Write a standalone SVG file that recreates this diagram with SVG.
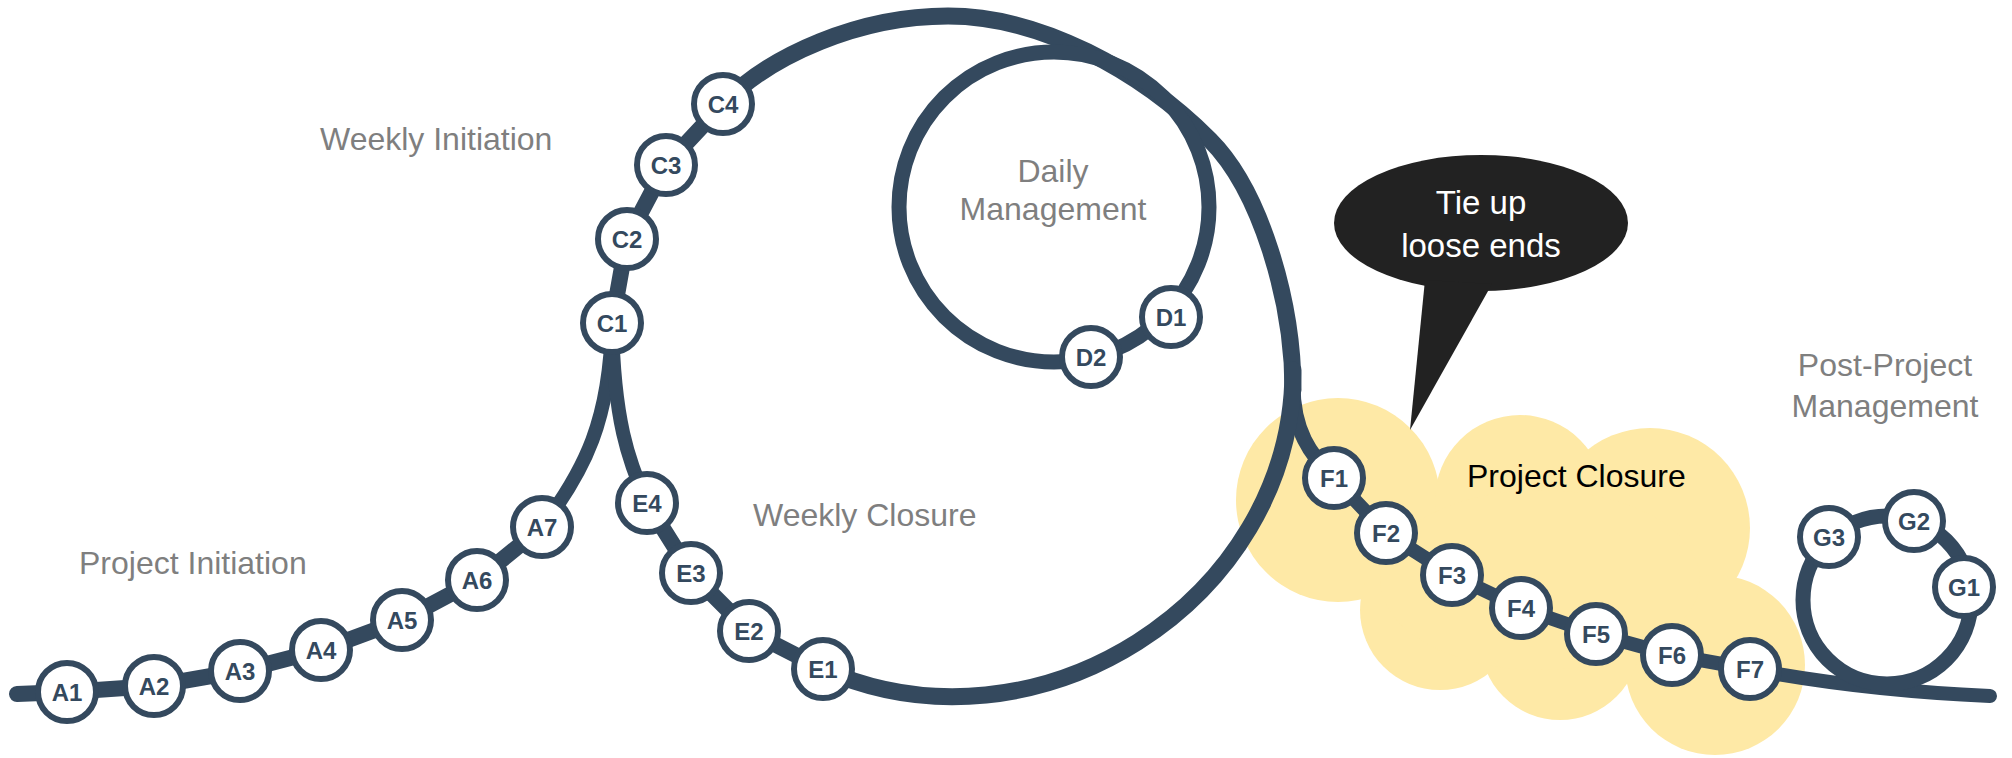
<svg xmlns="http://www.w3.org/2000/svg" width="2012" height="758" viewBox="0 0 2012 758">
<defs>
<style>
.ln{fill:none;stroke:#34495E;stroke-linecap:round;stroke-linejoin:round}
.nd circle{fill:#FFFFFF;stroke:#34495E;stroke-width:6}
.nd text{font-family:"Liberation Sans",Arial,sans-serif;font-weight:bold;font-size:24px;fill:#34495E;text-anchor:middle}
.lbl{font-family:"Liberation Sans",Arial,sans-serif;font-size:32px;fill:#7F7F7F}
.mid{text-anchor:middle}
.cloud{fill:#FEE9A6}
</style>
</defs>
<rect width="2012" height="758" fill="#FFFFFF"/>
<g id="cloud" class="cloud">
<circle cx="1338" cy="500" r="102"/>
<circle cx="1520" cy="500" r="85"/>
<circle cx="1650" cy="528" r="100"/>
<circle cx="1715" cy="665" r="90"/>
<circle cx="1560" cy="640" r="80"/>
<circle cx="1440" cy="610" r="80"/>
<ellipse cx="1540" cy="580" rx="160" ry="90"/>
</g>
<g id="bubble">
<ellipse cx="1481" cy="223" rx="147" ry="68" fill="#222222"/>
<polygon points="1425,280 1492,284 1410,430" fill="#222222"/>
<text class="lbl mid" x="1481" y="214" style="fill:#FFFFFF;font-size:33px">Tie up</text>
<text class="lbl mid" x="1481" y="257" style="fill:#FFFFFF;font-size:33px">loose ends</text>
</g>
<g id="labels">
<text class="lbl" x="79" y="574">Project Initiation</text>
<text class="lbl" x="320" y="150">Weekly Initiation</text>
<text class="lbl" x="753" y="526">Weekly Closure</text>
<text class="lbl mid" x="1053" y="182">Daily</text>
<text class="lbl mid" x="1053" y="220">Management</text>
<text class="lbl" x="1467" y="487" style="fill:#000000">Project Closure</text>
<text class="lbl mid" x="1885" y="376">Post-Project</text>
<text class="lbl mid" x="1885" y="417">Management</text>
</g>
<g id="connectors">
<path class="ln" stroke-width="16" d="M17,694 L67,692 L154,686 L240,671 L321,650 L402,620 L477,580 L542,527"/>
<path class="ln" stroke-width="14" d="M542,527 C585,470 610,420 612,323"/>
<path class="ln" stroke-width="14" d="M647,503 C628,460 614,420 612,323"/>
<path class="ln" stroke-width="16" d="M612,323 L627,239 L666,165 L723,104"/>
<path class="ln" stroke-width="17" d="M723,104 C770,55 860,16 948,16 C1040,16 1140,70 1210,140 C1260,190 1293,300 1293,390"/>
<path class="ln" stroke-width="15" d="M1293,385 C1293,430 1310,455 1334,478"/>
<path class="ln" stroke-width="17" d="M1293,370 C1293,602 1035,764 823,669"/>
<path class="ln" stroke-width="16" d="M823,669 L749,631 L691,573 L647,503"/>
<ellipse class="ln" stroke-width="15" cx="1054" cy="207" rx="155" ry="155"/>
<path class="ln" stroke-width="14" d="M1334,478 L1386,533 L1452,575 L1521,608 L1596,634 L1672,655 L1750,669"/>
<path class="ln" stroke-width="14" d="M1750,669 Q1860,690 1990,696"/>
<circle class="ln" stroke-width="15" cx="1887" cy="600" r="84"/>
</g>
<g id="A1" class="nd"><circle cx="67" cy="692" r="29"/><text x="67" y="700.5">A1</text></g>
<g id="A2" class="nd"><circle cx="154" cy="686" r="29"/><text x="154" y="694.5">A2</text></g>
<g id="A3" class="nd"><circle cx="240" cy="671" r="29"/><text x="240" y="679.5">A3</text></g>
<g id="A4" class="nd"><circle cx="321" cy="650" r="29"/><text x="321" y="658.5">A4</text></g>
<g id="A5" class="nd"><circle cx="402" cy="620" r="29"/><text x="402" y="628.5">A5</text></g>
<g id="A6" class="nd"><circle cx="477" cy="580" r="29"/><text x="477" y="588.5">A6</text></g>
<g id="A7" class="nd"><circle cx="542" cy="527" r="29"/><text x="542" y="535.5">A7</text></g>
<g id="C1" class="nd"><circle cx="612" cy="323" r="29"/><text x="612" y="331.5">C1</text></g>
<g id="C2" class="nd"><circle cx="627" cy="239" r="29"/><text x="627" y="247.5">C2</text></g>
<g id="C3" class="nd"><circle cx="666" cy="165" r="29"/><text x="666" y="173.5">C3</text></g>
<g id="C4" class="nd"><circle cx="723" cy="104" r="29"/><text x="723" y="112.5">C4</text></g>
<g id="D1" class="nd"><circle cx="1171" cy="317" r="29"/><text x="1171" y="325.5">D1</text></g>
<g id="D2" class="nd"><circle cx="1091" cy="357" r="29"/><text x="1091" y="365.5">D2</text></g>
<g id="E4" class="nd"><circle cx="647" cy="503" r="29"/><text x="647" y="511.5">E4</text></g>
<g id="E3" class="nd"><circle cx="691" cy="573" r="29"/><text x="691" y="581.5">E3</text></g>
<g id="E2" class="nd"><circle cx="749" cy="631" r="29"/><text x="749" y="639.5">E2</text></g>
<g id="E1" class="nd"><circle cx="823" cy="669" r="29"/><text x="823" y="677.5">E1</text></g>
<g id="F1" class="nd"><circle cx="1334" cy="478" r="29"/><text x="1334" y="486.5">F1</text></g>
<g id="F2" class="nd"><circle cx="1386" cy="533" r="29"/><text x="1386" y="541.5">F2</text></g>
<g id="F3" class="nd"><circle cx="1452" cy="575" r="29"/><text x="1452" y="583.5">F3</text></g>
<g id="F4" class="nd"><circle cx="1521" cy="608" r="29"/><text x="1521" y="616.5">F4</text></g>
<g id="F5" class="nd"><circle cx="1596" cy="634" r="29"/><text x="1596" y="642.5">F5</text></g>
<g id="F6" class="nd"><circle cx="1672" cy="655" r="29"/><text x="1672" y="663.5">F6</text></g>
<g id="F7" class="nd"><circle cx="1750" cy="669" r="29"/><text x="1750" y="677.5">F7</text></g>
<g id="G1" class="nd"><circle cx="1964" cy="587" r="29"/><text x="1964" y="595.5">G1</text></g>
<g id="G2" class="nd"><circle cx="1914" cy="521" r="29"/><text x="1914" y="529.5">G2</text></g>
<g id="G3" class="nd"><circle cx="1829" cy="537" r="29"/><text x="1829" y="545.5">G3</text></g>
</svg>
